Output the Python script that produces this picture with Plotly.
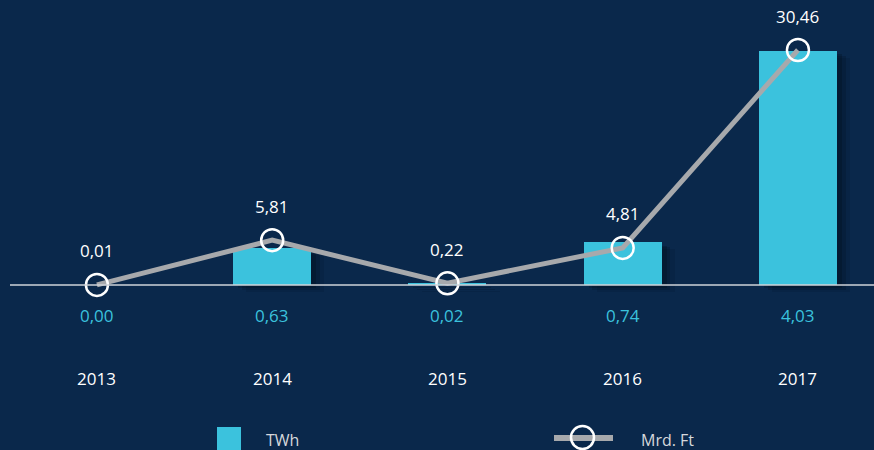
import plotly.graph_objects as go

years = ["2013", "2014", "2015", "2016", "2017"]
twh = [0.00, 0.63, 0.02, 0.74, 4.03]
twh_labels = ["0,00", "0,63", "0,02", "0,74", "4,03"]
mrd_ft = [0.01, 5.81, 0.22, 4.81, 30.46]
mrd_labels = ["0,01", "5,81", "0,22", "4,81", "30,46"]

BG = "#0a284b"
CYAN = "#3bc2dd"
GRAY = "#a7a9ac"
FONT = "Open Sans"
FS = 17

fig = go.Figure()

# soft shadow layers behind bars
for i, (dx, a) in enumerate([(0.075, 0.10), (0.05, 0.16), (0.028, 0.22)]):
    fig.add_trace(go.Bar(
        x=years, y=twh, base=[-0.12 + 0.03 * i] * len(twh),
        width=0.445, offset=-0.2225 + dx,
        marker=dict(color=f"rgba(0,8,20,{a})", line=dict(width=0)),
        hoverinfo="skip", showlegend=False, yaxis="y"))

fig.add_trace(go.Bar(
    x=years, y=twh, width=0.445, marker=dict(color=CYAN, line=dict(width=0)),
    name="TWh", showlegend=False, yaxis="y"))

fig.add_trace(go.Scatter(
    x=years, y=mrd_ft, mode="lines+markers", name="Mrd. Ft", yaxis="y2",
    line=dict(color=GRAY, width=5),
    marker=dict(size=22, color="rgba(0,0,0,0)", line=dict(color="white", width=2.5)),
    showlegend=False))

W, H = 874, 450
def px(xp):
    return (xp - 10) / 864
def py(yp):
    return 1 - yp / H

annotations = []
for i, (v, lab) in enumerate(zip(mrd_ft, mrd_labels)):
    annotations.append(dict(x=i, y=v, xref="x", yref="y2", text=lab, showarrow=False,
                            yshift=34, yanchor="middle",
                            font=dict(family=FONT, size=FS, color="white")))
for i, (yr, lab) in enumerate(zip(years, twh_labels)):
    annotations.append(dict(x=i, y=py(315), xref="x", yref="paper", text=lab,
                            showarrow=False, yanchor="middle",
                            font=dict(family=FONT, size=FS, color=CYAN)))
    annotations.append(dict(x=i, y=py(378), xref="x", yref="paper", text=yr,
                            showarrow=False, yanchor="middle",
                            font=dict(family=FONT, size=FS, color="white")))

# legend (manual)
annotations.append(dict(x=px(264), y=py(440), xref="paper", yref="paper", text="TWh",
                        xanchor="left", yanchor="middle", showarrow=False,
                        font=dict(family=FONT, size=16, color="#d6d8dc")))
annotations.append(dict(x=px(639), y=py(440), xref="paper", yref="paper", text="Mrd. Ft",
                        xanchor="left", yanchor="middle", showarrow=False,
                        font=dict(family=FONT, size=16, color="#d6d8dc")))

shapes = [
    dict(type="line", xref="paper", yref="y", x0=0, x1=1, y0=0, y1=0,
         line=dict(color="#cfd3d8", width=1.5), layer="above"),
    dict(type="rect", xref="paper", yref="paper", x0=px(217), x1=px(241), y0=py(451), y1=py(427),
         fillcolor=CYAN, line=dict(width=0)),
    dict(type="line", xref="paper", yref="paper", x0=px(554), x1=px(613), y0=py(438), y1=py(438),
         line=dict(color=GRAY, width=6)),
    dict(type="circle", xref="paper", yref="paper", x0=px(571), x1=px(594), y0=py(449), y1=py(426),
         line=dict(color="white", width=2.5), fillcolor="rgba(0,0,0,0)"),
]

bar_ppu = 234 / 4.03
line_ppu = 235 / 30.46
fig.update_layout(
    width=W, height=H, paper_bgcolor=BG, plot_bgcolor=BG,
    margin=dict(l=10, r=0, t=0, b=0),
    barmode="overlay", bargap=0,
    xaxis=dict(type="category", range=[-0.496, 4.434], showgrid=False, zeroline=False,
               showticklabels=False, showline=False),
    yaxis=dict(range=[-(450 - 285) / bar_ppu, 285 / bar_ppu], showgrid=False, zeroline=False,
               showticklabels=False, showline=False),
    yaxis2=dict(range=[-(450 - 285) / line_ppu, 285 / line_ppu], overlaying="y",
                showgrid=False, zeroline=False, showticklabels=False, showline=False),
    annotations=annotations, shapes=shapes, showlegend=False,
)

fig.write_html("out.html", config={"displayModeBar": False},
               post_script="document.body.style.margin='0';document.body.style.background='%s';" % BG)
